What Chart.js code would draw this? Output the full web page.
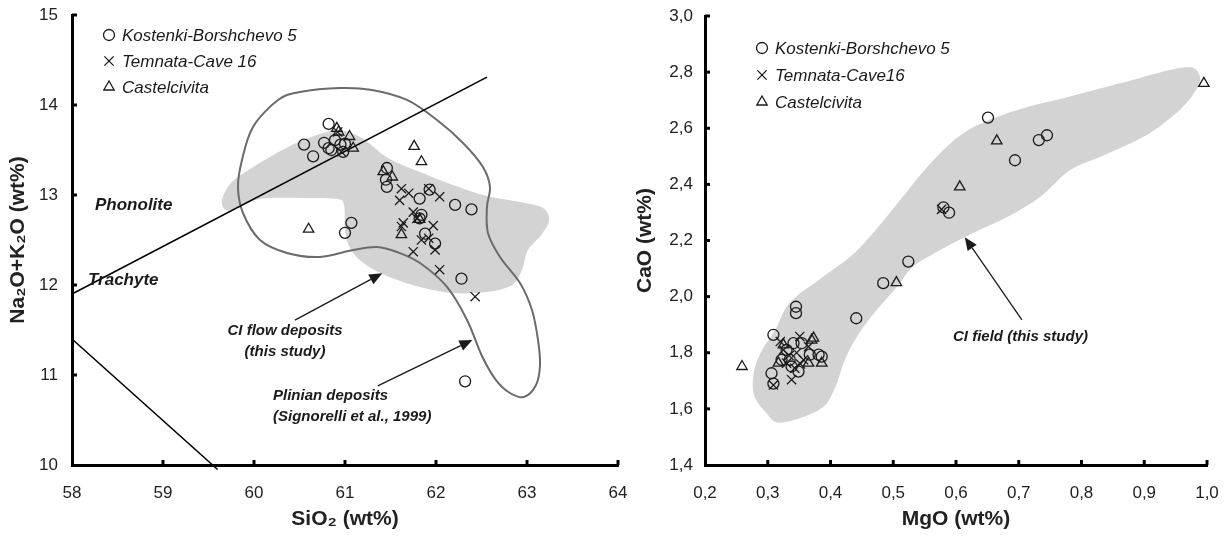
<!DOCTYPE html>
<html><head><meta charset="utf-8">
<script src="https://cdn.jsdelivr.net/npm/chart.js@4.4.0/dist/chart.umd.min.js"></script>
<style>
html,body{margin:0;padding:0;background:#fff;width:1228px;height:536px;overflow:hidden}
#l{position:absolute;left:0;top:0;width:632px;height:536px}
#r{position:absolute;left:632px;top:0;width:596px;height:536px}
</style></head><body>
<div id="l"><canvas id="c1" width="632" height="536"></canvas></div>
<div id="r"><canvas id="c2" width="596" height="536"></canvas></div>
<script>
// ===== Left panel data: SiO2 vs Na2O+K2O =====
const seriesNames = ['Kostenki-Borshchevo 5', 'Temnata-Cave 16', 'Castelcivita'];
const seriesNamesRight = ['Kostenki-Borshchevo 5', 'Temnata-Cave16', 'Castelcivita'];
const kbSiO2 = [60.82,60.55,60.65,60.77,60.82,60.89,60.95,60.98,61.00,60.85,61.46,61.45,61.46,61.82,61.93,62.21,62.39,61.07,61.00,61.84,61.82,61.88,61.99,62.28,62.32];
const kbAlk  = [13.79,13.56,13.43,13.58,13.52,13.61,13.56,13.48,13.57,13.50,13.30,13.17,13.09,12.96,13.06,12.89,12.84,12.69,12.58,12.78,12.74,12.57,12.46,12.07,10.93];
const tcSiO2 = [61.62,61.70,61.60,61.92,62.04,61.75,61.64,61.79,61.97,61.62,61.84,61.92,61.75,61.99,62.04,62.43,60.96,60.92];
const tcAlk  = [13.07,13.02,12.94,13.07,12.98,12.81,12.69,12.74,12.66,12.65,12.50,12.52,12.37,12.39,12.17,11.87,13.48,13.70];
const ccSiO2 = [60.91,60.93,61.05,61.09,61.76,61.84,61.42,61.52,60.60,61.62,61.82];
const ccAlk  = [13.74,13.70,13.65,13.52,13.54,13.37,13.26,13.20,12.62,12.56,12.73];
// CI flow deposits field (grey) and Plinian deposits outline
const ciFlowSiO2 = [59.648,59.758,60.011,60.396,60.725,60.945,61.187,61.473,61.824,62.187,62.560,62.923,63.176,63.242,63.165,63.011,62.945,62.835,62.560,62.187,61.824,61.462,61.187,61.044,61.000,60.989,60.912,60.505,60.066,59.824,59.692];
const ciFlowAlk  = [12.944,13.144,13.322,13.544,13.678,13.722,13.633,13.411,13.256,13.111,12.989,12.922,12.856,12.722,12.567,12.389,12.167,12.000,11.922,11.911,11.978,12.100,12.256,12.433,12.633,12.889,12.956,12.967,12.956,12.856,12.833];
const plinSiO2 = [60.264,60.505,60.945,61.297,61.681,62.011,62.297,62.516,62.593,62.560,62.571,62.703,62.923,63.055,63.121,63.143,63.099,62.967,62.813,62.659,62.505,62.341,62.121,61.824,61.571,61.352,61.088,60.725,60.363,60.066,59.879,59.824,59.868,59.989];
const plinAlk  = [14.056,14.144,14.189,14.167,14.056,13.833,13.578,13.311,13.089,12.867,12.578,12.311,12.022,11.722,11.389,11.111,10.889,10.756,10.800,10.944,11.211,11.611,11.978,12.244,12.367,12.422,12.389,12.311,12.356,12.500,12.800,13.089,13.389,13.756];
// TAS boundary lines
const phonTrachSiO2 = [58.0, 62.56];
const phonTrachAlk  = [11.90, 14.31];
const trachLowSiO2  = [58.0, 59.60];
const trachLowAlk   = [11.40, 9.95];

// ===== Right panel data: MgO vs CaO =====
const kbMgO = [0.651,0.694,0.732,0.745,0.580,0.589,0.524,0.484,0.441,0.345,0.345,0.309,0.306,0.309,0.354,0.330,0.335,0.349,0.322,0.341,0.367,0.338,0.381,0.386];
const kbCaO = [2.638,2.486,2.558,2.575,2.318,2.299,2.125,2.048,1.923,1.964,1.941,1.864,1.727,1.690,1.834,1.810,1.775,1.733,1.775,1.834,1.793,1.751,1.793,1.786];
const tcMgO = [0.577,0.309,0.338,0.351,0.325,0.346,0.330,0.357,0.320,0.365,0.343,0.334,0.352];
const tcCaO = [2.311,1.685,1.704,1.858,1.810,1.800,1.763,1.775,1.840,1.822,1.745,1.790,1.760];
const ccMgO = [0.995,0.665,0.606,0.505,0.259,0.386,0.373,0.317,0.365,0.325,0.370];
const ccCaO = [2.760,2.555,2.391,2.050,1.751,1.763,1.852,1.763,1.763,1.828,1.845];
const ciFieldMgO = [0.321,0.296,0.278,0.278,0.291,0.312,0.335,0.386,0.431,0.468,0.511,0.554,0.595,0.638,0.707,0.782,0.861,0.925,0.965,0.982,0.989,0.976,0.949,0.901,0.837,0.782,0.734,0.681,0.627,0.575,0.531,0.506,0.471,0.444,0.423,0.406,0.383];
const ciFieldCaO = [1.551,1.590,1.650,1.732,1.810,1.881,1.978,2.067,2.141,2.227,2.344,2.462,2.554,2.615,2.671,2.713,2.760,2.799,2.817,2.810,2.771,2.714,2.650,2.572,2.505,2.451,2.355,2.283,2.227,2.166,2.106,2.035,1.945,1.864,1.775,1.669,1.598];

const F = '"Liberation Sans", Arial, Helvetica, sans-serif';
const INK = '#1a1a1a';
const pts = (xs, ys) => xs.map((v, i) => ({x: v, y: ys[i]}));
const comma = v => Number(v).toFixed(1).replace('.', ',');

function smoothClosed(ctx, p) {
  const n = p.length;
  ctx.moveTo(p[0][0], p[0][1]);
  for (let i = 0; i < n; i++) {
    const p0 = p[(i - 1 + n) % n], p1 = p[i], p2 = p[(i + 1) % n], p3 = p[(i + 2) % n];
    ctx.bezierCurveTo(p1[0] + (p2[0] - p0[0]) / 6, p1[1] + (p2[1] - p0[1]) / 6,
                      p2[0] - (p3[0] - p1[0]) / 6, p2[1] - (p3[1] - p1[1]) / 6, p2[0], p2[1]);
  }
  ctx.closePath();
}
function toPx(chart, xs, ys) {
  const sx = chart.scales.x, sy = chart.scales.y;
  return xs.map((v, i) => [sx.getPixelForValue(v), sy.getPixelForValue(ys[i])]);
}
function arrow(ctx, chart, a, b) {
  const sx = chart.scales.x, sy = chart.scales.y;
  const x1 = sx.getPixelForValue(a[0]), y1 = sy.getPixelForValue(a[1]);
  const x2 = sx.getPixelForValue(b[0]), y2 = sy.getPixelForValue(b[1]);
  const ang = Math.atan2(y2 - y1, x2 - x1), L = 13, W = 5.5;
  ctx.save();
  ctx.strokeStyle = INK; ctx.fillStyle = INK; ctx.lineWidth = 1.3;
  ctx.beginPath(); ctx.moveTo(x1, y1); ctx.lineTo(x2 - L * Math.cos(ang), y2 - L * Math.sin(ang)); ctx.stroke();
  ctx.beginPath(); ctx.moveTo(x2, y2);
  ctx.lineTo(x2 - L * Math.cos(ang) + W * Math.sin(ang), y2 - L * Math.sin(ang) - W * Math.cos(ang));
  ctx.lineTo(x2 - L * Math.cos(ang) - W * Math.sin(ang), y2 - L * Math.sin(ang) + W * Math.cos(ang));
  ctx.closePath(); ctx.fill();
  ctx.restore();
}

const decor = {
  id: 'decor',
  beforeDatasetsDraw(chart, args, o) {
    const ctx = chart.ctx;
    ctx.save();
    (o.fields || []).forEach(f => {
      ctx.beginPath(); smoothClosed(ctx, toPx(chart, f.xs, f.ys));
      ctx.fillStyle = '#d3d3d3'; ctx.fill();
    });
    (o.outlines || []).forEach(f => {
      ctx.beginPath(); smoothClosed(ctx, toPx(chart, f.xs, f.ys));
      ctx.strokeStyle = '#6b6b6b'; ctx.lineWidth = 2; ctx.stroke();
    });
    ctx.restore();
  },
  afterDraw(chart, args, o) {
    const ctx = chart.ctx, ca = chart.chartArea;
    ctx.save();
    // inward tick marks
    ctx.strokeStyle = '#000'; ctx.lineWidth = 3; ctx.lineCap = 'butt';
    chart.scales.x.ticks.forEach((t, i) => {
      if (i === 0) return;
      const px = chart.scales.x.getPixelForValue(t.value);
      ctx.beginPath(); ctx.moveTo(px, ca.bottom); ctx.lineTo(px, ca.bottom - 5); ctx.stroke();
    });
    chart.scales.y.ticks.forEach((t, i) => {
      if (i === 0) return;
      const py = chart.scales.y.getPixelForValue(t.value);
      ctx.beginPath(); ctx.moveTo(ca.left, py); ctx.lineTo(ca.left + 5, py); ctx.stroke();
    });
    // arrows
    (o.arrows || []).forEach(a => arrow(ctx, chart, a.from, a.to));
    // texts
    ctx.fillStyle = INK; ctx.textBaseline = 'middle';
    (o.texts || []).forEach(t => {
      ctx.font = 'italic bold ' + t.size + 'px ' + F;
      ctx.textAlign = t.align || 'left';
      ctx.fillText(t.text, t.x, t.y);
    });
    // legend
    const lg = o.legend;
    if (lg) {
      chart.data.datasets.forEach(ds => {
        if (ds.legendRow === undefined) return;
        const y = lg.y0 + ds.legendRow * lg.dy;
        ctx.save();
        ctx.strokeStyle = INK; ctx.fillStyle = 'rgba(0,0,0,0)'; ctx.lineWidth = 1.3;
        Chart.helpers.drawPoint(ctx, {pointStyle: ds.pointStyle, radius: ds.pointRadius, rotation: 0, borderWidth: 1.3}, lg.x, y);
        ctx.restore();
        ctx.font = 'italic 17px ' + F; ctx.textAlign = 'left'; ctx.fillStyle = INK;
        ctx.fillText(ds.label, lg.x + 13, y + 1);
      });
    }
    ctx.restore();
  }
};

function pointSet(label, data, style, r, row) {
  return {label, data, pointStyle: style, pointRadius: r, pointHoverRadius: r,
    pointBorderWidth: 1.3, borderColor: INK, pointBorderColor: INK,
    backgroundColor: 'rgba(0,0,0,0)', pointBackgroundColor: 'rgba(0,0,0,0)', showLine: false, legendRow: row, clip: 10};
}
function lineSet(data) {
  return {data, showLine: true, pointRadius: 0, borderColor: '#000', borderWidth: 1.6, clip: false, fill: false, tension: 0};
}
function axis(min, max, step, fmt, titleText, isX, fixed, pad, tpad) {
  return {
    type: 'linear', min, max, position: isX ? 'bottom' : 'left',
    ticks: {stepSize: step, color: '#222', font: {size: 17, family: F}, padding: tpad,
            maxRotation: 0, autoSkip: false, includeBounds: true, callback: v => fmt(v)},
    grid: {display: false, drawTicks: false},
    border: {display: true, width: 3, color: '#000'},
    title: {display: true, text: titleText, color: '#222', font: {size: 21, weight: 'bold', family: F}, padding: pad},
    afterFit: s => {
      if (isX) s.height = fixed; else s.width = fixed;
      s.paddingLeft = 0; s.paddingRight = 0; s.paddingTop = 0; s.paddingBottom = 0;
    }
  };
}
const common = {responsive: false, animation: false, devicePixelRatio: 1, events: []};

new Chart(document.getElementById('c1'), {
  type: 'scatter',
  data: {datasets: [
    pointSet(seriesNames[1], pts(tcSiO2, tcAlk), 'crossRot', 6.5, 1),
    pointSet(seriesNames[0], pts(kbSiO2, kbAlk), 'circle', 5.5, 0),
    pointSet(seriesNames[2], pts(ccSiO2, ccAlk), 'triangle', 6, 2),
    lineSet(pts(phonTrachSiO2, phonTrachAlk)),
    lineSet(pts(trachLowSiO2, trachLowAlk))
  ]},
  options: Object.assign({}, common, {
    layout: {padding: {left: 0, top: 15, right: 14, bottom: 0}},
    scales: {
      x: axis(58, 64, 1, v => String(v), 'SiO\u2082 (wt%)', true, 71, {top: 4, bottom: 4}, 18),
      y: axis(10, 15, 1, v => String(v), 'Na\u2082O+K\u2082O (wt%)', false, 72, {top: 6, bottom: 0}, 14)
    },
    plugins: {
      legend: {display: false}, tooltip: {enabled: false},
      decor: {
        fields: [{xs: ciFlowSiO2, ys: ciFlowAlk}],
        outlines: [{xs: plinSiO2, ys: plinAlk}],
        arrows: [{from: [60.45, 11.61], to: [61.41, 12.13]}, {from: [61.36, 10.88], to: [62.40, 11.39]}],
        texts: [
          {text: 'Phonolite', x: 95, y: 205, size: 17},
          {text: 'Trachyte', x: 88, y: 280, size: 17},
          {text: 'CI flow deposits', x: 285, y: 331, size: 15, align: 'center'},
          {text: '(this study)', x: 285, y: 352, size: 15, align: 'center'},
          {text: 'Plinian deposits', x: 273, y: 396, size: 15},
          {text: '(Signorelli et al., 1999)', x: 273, y: 417, size: 15}
        ],
        legend: {x: 109, y0: 35, dy: 26}
      }
    }
  }),
  plugins: [decor]
});

new Chart(document.getElementById('c2'), {
  type: 'scatter',
  data: {datasets: [
    pointSet(seriesNamesRight[1], pts(tcMgO, tcCaO), 'crossRot', 6.5, 1),
    pointSet(seriesNamesRight[0], pts(kbMgO, kbCaO), 'circle', 5.5, 0),
    pointSet(seriesNamesRight[2], pts(ccMgO, ccCaO), 'triangle', 6, 2)
  ]},
  options: Object.assign({}, common, {
    layout: {padding: {left: 0, top: 16, right: 21, bottom: 0}},
    scales: {
      x: axis(0.2, 1.0, 0.1, comma, 'MgO (wt%)', true, 71, {top: 4, bottom: 4}, 18),
      y: axis(1.4, 3.0, 0.2, comma, 'CaO (wt%)', false, 73, {top: 1, bottom: 0}, 12)
    },
    plugins: {
      legend: {display: false}, tooltip: {enabled: false},
      decor: {
        fields: [{xs: ciFieldMgO, ys: ciFieldCaO}],
        arrows: [{from: [0.705, 1.917], to: [0.614, 2.212]}],
        texts: [{text: 'CI field (this study)', x: 321, y: 337, size: 15}],
        legend: {x: 130, y0: 48, dy: 27}
      }
    }
  }),
  plugins: [decor]
});
</script>
</body></html>
